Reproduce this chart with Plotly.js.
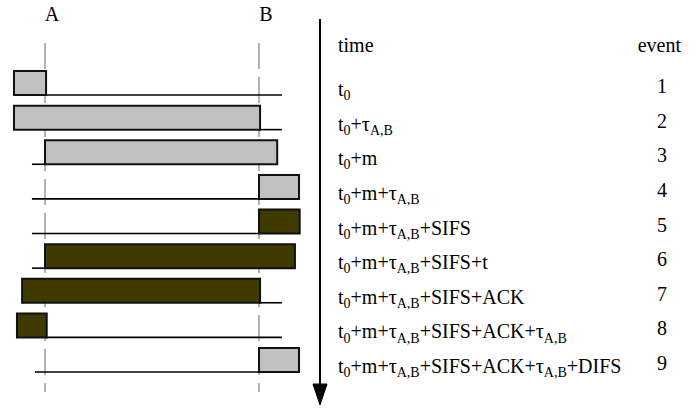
<!DOCTYPE html>
<html>
<head>
<meta charset="utf-8">
<script src="https://cdn.plot.ly/plotly-3.0.1.min.js"></script>
<style>
#chart text { font-family: 'Liberation Serif', 'Times New Roman', serif !important; }
</style>
</head>
<body style="margin:0">
<div id="chart"></div>
<script>
// Rows = events; positions along the medium in units where station A = 0, station B = 1
const events = [1, 2, 3, 4, 5, 6, 7, 8, 9];
const timeLabels = [
  't<sub>0</sub>',
  't<sub>0</sub>+τ<sub>A,B</sub>',
  't<sub>0</sub>+m',
  't<sub>0</sub>+m+τ<sub>A,B</sub>',
  't<sub>0</sub>+m+τ<sub>A,B</sub>+SIFS',
  't<sub>0</sub>+m+τ<sub>A,B</sub>+SIFS+t',
  't<sub>0</sub>+m+τ<sub>A,B</sub>+SIFS+ACK',
  't<sub>0</sub>+m+τ<sub>A,B</sub>+SIFS+ACK+τ<sub>A,B</sub>',
  't<sub>0</sub>+m+τ<sub>A,B</sub>+SIFS+ACK+τ<sub>A,B</sub>+DIFS'
];
const frameStart = [-0.145, -0.145, 0.0, 1.0, 1.0, 0.0, -0.107, -0.131, 1.0];
const frameEnd   = [0.005, 1.005, 1.085, 1.187, 1.19, 1.168, 1.005, 0.008, 1.187];
const frameKind  = ['data', 'data', 'data', 'data', 'ack', 'ack', 'ack', 'ack', 'data'];
const wireStart  = [0.0, 1.0, -0.061, -0.061, -0.061, -0.061, 1.0, 0.0, -0.047];
const wireEnd    = [1.107, 1.107, 0.0, 1.0, 1.0, 0.0, 1.107, 1.107, 1.0];
const stations = ['A', 'B'];
const stationPos = [0, 1];

// ---- layout helpers (pixel geometry) ----
const W = 697, H = 410;
const pxA = 45, pxPerUnit = 214;
const rowPx0 = 95, rowPitch = 34.625;
const xRange = [-pxA / pxPerUnit, (W - pxA) / pxPerUnit];
const yRange = [1 + (H - rowPx0) / rowPitch, 1 - rowPx0 / rowPitch];
const yOfPx = p => 1 + (p - rowPx0) / rowPitch;
const uOfPx = p => (p - pxA) / pxPerUnit;
const pxDy = d => d / rowPitch;
const boxH = 0.69;
const fill = {data: '#c0c0c0', ack: '#3f3b00'};

const shapes = [];
// station time lines (dashed)
stationPos.forEach(u => shapes.push({
  type: 'line', xref: 'x', yref: 'y', x0: u, x1: u, y0: yOfPx(43), y1: yOfPx(392),
  line: {color: '#9a9a9a', width: 1.5, dash: '26px,8px'}, layer: 'above'
}));
// medium lines
events.forEach((k, i) => shapes.push({
  type: 'line', xref: 'x', yref: 'y', x0: wireStart[i], x1: wireEnd[i], y0: k, y1: k,
  line: {color: '#000', width: 1.6}, layer: 'above'
}));
// frames
events.forEach((k, i) => shapes.push({
  type: 'rect', xref: 'x', yref: 'y', x0: frameStart[i], x1: frameEnd[i], y0: k, y1: k - boxH,
  fillcolor: fill[frameKind[i]], line: {color: '#111', width: 2}, layer: 'above'
}));
// time arrow
const ax = uOfPx(320);
shapes.push({type: 'line', xref: 'x', yref: 'y', x0: ax, x1: ax, y0: yOfPx(19), y1: yOfPx(388),
  line: {color: '#000', width: 2}, layer: 'above'});
const hw = 7 / pxPerUnit;
shapes.push({type: 'path', xref: 'x', yref: 'y',
  path: `M ${ax - hw},${yOfPx(384)} L ${ax + hw},${yOfPx(384)} L ${ax},${yOfPx(405)} Z`,
  fillcolor: '#000', line: {color: '#000', width: 1}, layer: 'above'});

const tf = {family: 'Liberation Serif', size: 20, color: '#000'};
const textTrace = (x, y, text, pos) => ({
  type: 'scatter', mode: 'text', x: x, y: y, text: text, textposition: pos,
  textfont: Object.assign({}, tf), hoverinfo: 'skip', cliponaxis: false, showlegend: false
});
const traces = [
  textTrace(stationPos.map(u => u + 7 / pxPerUnit), stationPos.map(() => yOfPx(16)), stations, 'middle center'),
  textTrace([uOfPx(338)], [yOfPx(47)], ['time'], 'middle right'),
  textTrace([uOfPx(681)], [yOfPx(47)], ['event'], 'middle left'),
  textTrace(events.map(() => uOfPx(338)), events.map(k => k - pxDy(4)), timeLabels, 'middle right'),
  textTrace(events.map(() => uOfPx(662)), events.map(k => k - pxDy(7)), events.map(String), 'middle center')
];

const layout = {
  width: W, height: H,
  margin: {l: 0, r: 0, t: 0, b: 0, pad: 0},
  paper_bgcolor: '#fff', plot_bgcolor: '#fff',
  font: {family: 'Liberation Serif', size: 20, color: '#000'},
  showlegend: false,
  xaxis: {range: xRange, visible: false},
  yaxis: {range: yRange, visible: false},
  shapes: shapes
};
Plotly.newPlot('chart', traces, layout, {displayModeBar: false});
</script>
</body>
</html>
